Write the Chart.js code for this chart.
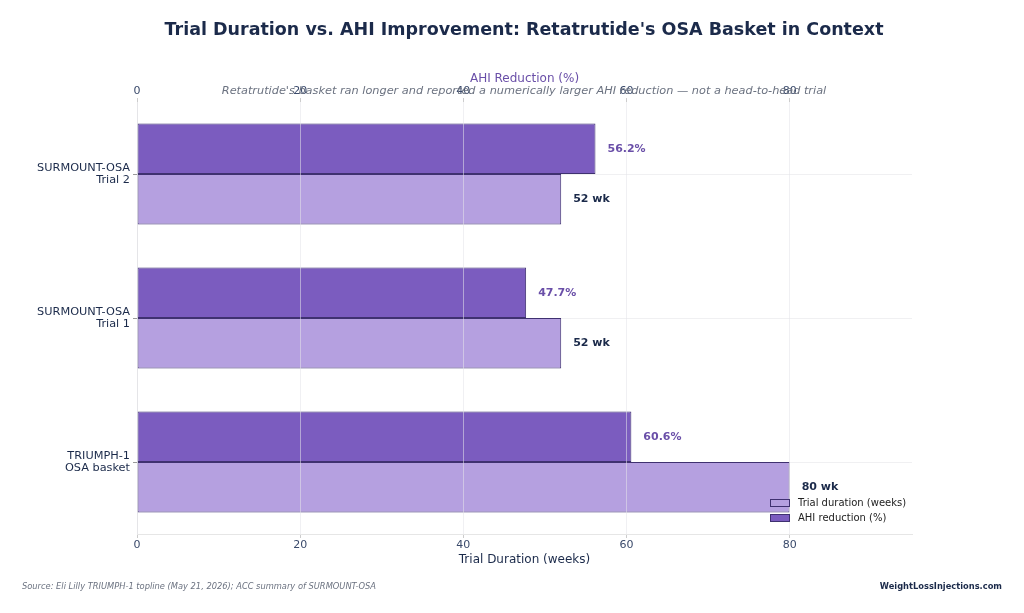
<!DOCTYPE html>
<html>
<head>
<meta charset="utf-8">
<script src="https://cdn.jsdelivr.net/npm/chart.js@4"></script>
<style>
  html, body { margin: 0; padding: 0; background: #ffffff; }
  #wrap { width: 1024px; height: 613px; position: relative; }
</style>
</head>
<body>
<div id="wrap"><canvas id="chart" width="1024" height="613"></canvas></div>
<script>
/* ---- data ---- */
const trials = [
    ["SURMOUNT-OSA", "Trial 2"],
    ["SURMOUNT-OSA", "Trial 1"],
    ["TRIUMPH-1", "OSA basket"]
];
const ahiReduction = [56.2, 47.7, 60.6];      // %
const trialDuration = [52, 52, 80];           // weeks
const axisTicks = [0, 20, 40, 60, 80];

const NAVY = "#1b2a4a";
const PURPLE_TEXT = "#6a4fa8";
const DARK_BAR = "#7b5cbf";
const LIGHT_BAR = "#b5a0e0";
const BAR_EDGE = "#3f3170";
const FONT = "'DejaVu Sans', sans-serif";

/* value labels at the end of each bar */
const valueLabels = {
    id: "valueLabels",
    afterDraw(chart) {
        const ctx = chart.ctx;
        ctx.save();
        ctx.font = "bold 11px " + FONT;
        ctx.textAlign = "left";
        ctx.textBaseline = "middle";
        chart.data.datasets.forEach((ds, i) => {
            const meta = chart.getDatasetMeta(i);
            meta.data.forEach((bar, j) => {
                const v = ds.data[j];
                ctx.fillStyle = ds.labelColor;
                ctx.fillText(v + ds.labelSuffix, bar.x + 12, bar.y);
            });
        });
        ctx.restore();
    }
};

/* titles, subtitle, footer and legend */
const decorations = {
    id: "decorations",
    afterDraw(chart) {
        const ctx = chart.ctx;
        ctx.save();
        ctx.textBaseline = "middle";

        ctx.fillStyle = NAVY;
        ctx.textAlign = "center";
        ctx.font = "bold 17.5px " + FONT;
        ctx.fillText("Trial Duration vs. AHI Improvement: Retatrutide's OSA Basket in Context", 524, 30);

        ctx.fillStyle = "#6b7280";
        ctx.font = "italic 11.3px " + FONT;
        ctx.fillText("Retatrutide's basket ran longer and reported a numerically larger AHI reduction \u2014 not a head-to-head trial", 524, 91);

        ctx.textAlign = "left";
        ctx.font = "italic 8.3px " + FONT;
        ctx.fillText("Source: Eli Lilly TRIUMPH-1 topline (May 21, 2026); ACC summary of SURMOUNT-OSA", 22, 587);

        ctx.textAlign = "right";
        ctx.fillStyle = NAVY;
        ctx.font = "bold 8.3px " + FONT;
        ctx.fillText("WeightLossInjections.com", 1002, 587);

        // legend
        const items = [
            { text: "Trial duration (weeks)", fill: LIGHT_BAR },
            { text: "AHI reduction (%)", fill: DARK_BAR }
        ];
        ctx.textAlign = "left";
        ctx.font = "10px " + FONT;
        items.forEach((it, k) => {
            const y = 503 + k * 15;
            ctx.fillStyle = it.fill;
            ctx.fillRect(770, y - 4, 20, 8);
            ctx.strokeStyle = BAR_EDGE;
            ctx.lineWidth = 1;
            ctx.strokeRect(770.5, y - 3.5, 19, 7);
            ctx.fillStyle = "#222222";
            ctx.fillText(it.text, 798, y);
        });
        ctx.restore();
    }
};

const gridColor = "rgba(228,228,234,0.55)";

new Chart(document.getElementById("chart"), {
    type: "bar",
    data: {
        labels: trials,
        datasets: [
            {
                label: "AHI reduction (%)",
                data: ahiReduction,
                xAxisID: "x2",
                backgroundColor: DARK_BAR,
                borderColor: BAR_EDGE,
                borderWidth: 1,
                borderSkipped: false,
                labelColor: PURPLE_TEXT,
                labelSuffix: "%"
            },
            {
                label: "Trial duration (weeks)",
                data: trialDuration,
                xAxisID: "x",
                backgroundColor: LIGHT_BAR,
                borderColor: BAR_EDGE,
                borderWidth: 1,
                borderSkipped: false,
                labelColor: NAVY,
                labelSuffix: " wk"
            }
        ]
    },
    options: {
        indexAxis: "y",
        responsive: false,
        animation: false,
        categoryPercentage: 0.7,
        barPercentage: 1.0,
        layout: {
            padding: { left: 0, right: 112, top: 67, bottom: 42 }
        },
        plugins: {
            legend: { display: false },
            tooltip: { enabled: false }
        },
        scales: {
            x: {
                position: "bottom",
                min: 0,
                max: 95,
                afterBuildTicks(scale) {
                    scale.ticks = axisTicks.map(v => ({ value: v }));
                },
                afterFit(scale) { scale.height = 37; },
                grid: { z: 1, color: gridColor, tickLength: 4, tickColor: "#cccccc" },
                border: { z: 1, color: "#e6e6e6" },
                ticks: { color: "#3a4a6b", font: { family: FONT, size: 11 }, padding: 1 },
                title: {
                    display: true,
                    text: "Trial Duration (weeks)",
                    color: NAVY,
                    font: { family: FONT, size: 12 },
                    padding: { top: 4, bottom: 4 }
                }
            },
            x2: {
                position: "top",
                min: 0,
                max: 95,
                afterBuildTicks(scale) {
                    scale.ticks = axisTicks.map(v => ({ value: v }));
                },
                afterFit(scale) { scale.height = 35; },
                grid: { drawOnChartArea: false, tickLength: 4, tickColor: "#cccccc" },
                border: { display: false },
                ticks: { color: "#3a4a6b", font: { family: FONT, size: 11 }, padding: 0 },
                title: {
                    display: true,
                    text: "AHI Reduction (%)",
                    color: PURPLE_TEXT,
                    font: { family: FONT, size: 12 },
                    padding: { top: 5, bottom: 4 }
                }
            },
            y: {
                afterFit(scale) { scale.width = 137; },
                grid: { offset: false, color: "rgba(225,225,230,0.5)", tickLength: 4, tickColor: "#999999" },
                border: { color: "#e6e6e6" },
                ticks: { color: NAVY, font: { family: FONT, size: 11.3, lineHeight: 1.1 }, padding: 3 }
            }
        }
    },
    plugins: [valueLabels, decorations]
});
</script>
</body>
</html>
